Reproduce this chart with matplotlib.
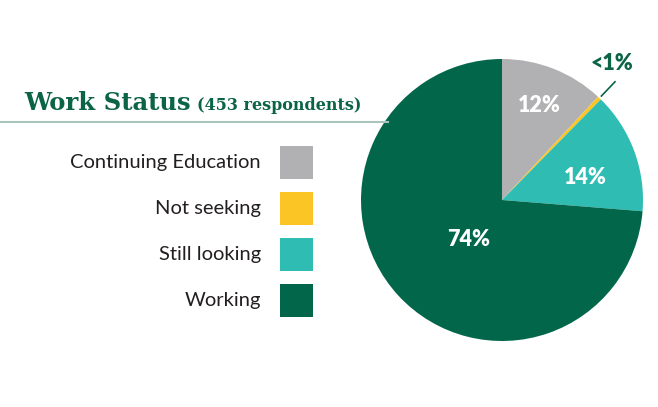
import numpy as np
import matplotlib
matplotlib.use("Agg")
import matplotlib.pyplot as plt

# respondents per status (453 total)
categories = ["Continuing Education", "Not seeking", "Still looking", "Working"]
counts = [54, 2, 63, 334]
pct_labels = ["12%", "<1%", "14%", "74%"]
colors = ["#b1b1b3", "#fcc526", "#2ebcb3", "#02674a"]

title = "Work Status"
subtitle = "(453 respondents)"
dark_green = "#0b6446"

fig = plt.figure(figsize=(6.58, 4.07), dpi=100)
W, H = 658, 407

def fx(px):
    return px / W

def fy(py):
    return 1 - py / H

# pie axes: center (502,200), radius 141 px
ax = fig.add_axes([fx(361), fy(341), 282 / W, 282 / H])
wedges, _ = ax.pie(counts, colors=colors, startangle=90, counterclock=False,
                   radius=1, wedgeprops=dict(linewidth=0))
ax.set_xlim(-1, 1)
ax.set_ylim(-1, 1)
ax.axis("off")

# radial distance and angle shift (deg) for each label
label_r = [0.72, None, 0.61, 0.37]
label_shift = [0, 0, -5, 7]
for w, lab, r, s in zip(wedges, pct_labels, label_r, label_shift):
    mid = np.deg2rad((w.theta1 + w.theta2) / 2 + s)
    if r is None:
        # small slice: label outside with a leader line
        x0, y0 = np.cos(mid), np.sin(mid)
        ax.plot([x0 * 1.02, x0 * 1.16], [y0 * 1.02, y0 * 1.16], color=dark_green,
                lw=1.2, clip_on=False)
        ax.text(0.78, 0.97, lab, ha="center", va="center", color=dark_green,
                fontsize=15.5, fontweight="heavy", family="Lato", clip_on=False)
    else:
        ax.text(r * np.cos(mid), r * np.sin(mid), lab, ha="center", va="center",
                color="white", fontsize=15.5, fontweight="heavy", family="Lato")

# title and rule
t = fig.text(fx(24), fy(110), title, color=dark_green, fontsize=17.5, fontweight="bold",
             family="DejaVu Serif", ha="left", va="baseline")
fig.canvas.draw()
bb = t.get_window_extent()
fig.text((bb.x1 + 6) / W, fy(110), subtitle, color=dark_green, fontsize=11.5,
         fontweight="bold", family="DejaVu Serif", ha="left", va="baseline")
fig.add_artist(plt.Line2D([0, fx(388)], [fy(122), fy(122)], color="#a9c4bd", lw=1.5))

# legend
legend_y = [162, 208.5, 254.5, 300.5]
for cat, col, yc in zip(categories, colors, legend_y):
    fig.add_artist(plt.Rectangle((fx(280), fy(yc + 16.5)), 33 / W, 33 / H,
                                 facecolor=col, edgecolor="none"))
    fig.text(fx(261), fy(yc), cat, ha="right", va="center", fontsize=14.5,
             color="#231f20", family="Lato")

fig.savefig("out.png", dpi=100, facecolor="white")
